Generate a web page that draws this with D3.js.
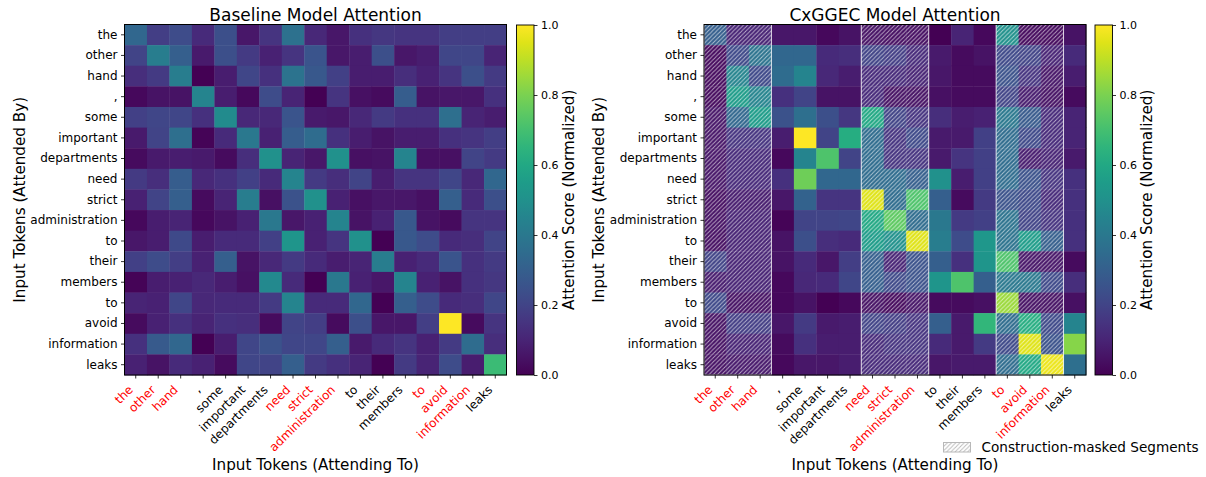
<!DOCTYPE html>
<html><head><meta charset="utf-8">
<script src="https://cdn.jsdelivr.net/npm/d3@7"></script>
<style>body{margin:0;background:#fff;} text{font-family:"DejaVu Sans",sans-serif;}</style>
</head><body>
<svg id="c" width="1206" height="477"></svg>
<script>
const tokens = ["the","other","hand",",","some","important","departments","need","strict","administration","to","their","members","to","avoid","information","leaks"];
const highlighted = [0,1,2,7,8,9,13,14,15];
const maskedSegments = [[0,2],[7,9],[13,15]];
const cbTicks = [0, 0.2, 0.4, 0.6, 0.8, 1.0];
const titles = ["Baseline Model Attention", "CxGGEC Model Attention"];
const legendLabel = "Construction-masked Segments";

const baseline = [
 [0.33,0.18,0.23,0.12,0.24,0.06,0.15,0.37,0.11,0.06,0.14,0.16,0.15,0.15,0.18,0.18,0.18],
 [0.20,0.42,0.30,0.07,0.24,0.17,0.09,0.15,0.26,0.06,0.08,0.24,0.06,0.08,0.21,0.21,0.10],
 [0.13,0.17,0.42,0.00,0.08,0.21,0.14,0.38,0.27,0.19,0.08,0.08,0.13,0.09,0.15,0.24,0.17],
 [0.02,0.05,0.05,0.45,0.08,0.02,0.23,0.10,0.00,0.15,0.04,0.03,0.29,0.05,0.06,0.06,0.14],
 [0.19,0.21,0.21,0.14,0.48,0.11,0.11,0.26,0.07,0.06,0.11,0.17,0.14,0.14,0.36,0.10,0.08],
 [0.07,0.20,0.36,0.01,0.12,0.40,0.09,0.29,0.35,0.14,0.08,0.05,0.08,0.08,0.14,0.15,0.18],
 [0.03,0.07,0.08,0.07,0.03,0.13,0.50,0.10,0.06,0.50,0.04,0.05,0.45,0.04,0.04,0.20,0.17],
 [0.17,0.13,0.29,0.11,0.14,0.19,0.12,0.45,0.17,0.13,0.20,0.08,0.15,0.15,0.21,0.11,0.33],
 [0.09,0.20,0.30,0.03,0.10,0.42,0.04,0.25,0.50,0.09,0.04,0.06,0.06,0.04,0.30,0.12,0.24],
 [0.02,0.08,0.10,0.02,0.05,0.09,0.40,0.06,0.09,0.45,0.05,0.09,0.27,0.05,0.03,0.15,0.15],
 [0.06,0.08,0.22,0.08,0.12,0.12,0.19,0.52,0.09,0.15,0.50,0.00,0.27,0.23,0.12,0.13,0.20],
 [0.19,0.23,0.18,0.09,0.30,0.05,0.11,0.17,0.12,0.08,0.10,0.42,0.09,0.12,0.26,0.14,0.17],
 [0.01,0.08,0.09,0.11,0.08,0.04,0.47,0.12,0.00,0.40,0.09,0.06,0.45,0.09,0.05,0.14,0.16],
 [0.10,0.09,0.21,0.11,0.12,0.12,0.17,0.45,0.12,0.12,0.33,0.00,0.30,0.23,0.12,0.13,0.21],
 [0.03,0.09,0.14,0.10,0.14,0.13,0.03,0.20,0.18,0.03,0.24,0.06,0.06,0.18,1.00,0.03,0.15],
 [0.14,0.28,0.33,0.00,0.08,0.21,0.25,0.21,0.21,0.30,0.07,0.12,0.15,0.09,0.17,0.35,0.13],
 [0.09,0.05,0.12,0.09,0.03,0.21,0.20,0.30,0.17,0.14,0.10,0.00,0.17,0.10,0.23,0.08,0.68]
];

const cxggec = [
 [0.30,0.10,0.10,0.06,0.06,0.02,0.05,0.05,0.04,0.04,0.00,0.10,0.02,0.50,0.03,0.03,0.05],
 [0.03,0.22,0.38,0.33,0.33,0.12,0.13,0.20,0.18,0.12,0.07,0.03,0.05,0.22,0.20,0.10,0.12],
 [0.03,0.45,0.22,0.35,0.45,0.11,0.08,0.12,0.12,0.10,0.06,0.03,0.03,0.25,0.15,0.06,0.08],
 [0.03,0.55,0.45,0.14,0.20,0.05,0.05,0.12,0.05,0.05,0.04,0.03,0.03,0.20,0.08,0.05,0.03],
 [0.06,0.33,0.55,0.25,0.36,0.24,0.16,0.60,0.20,0.15,0.13,0.08,0.09,0.40,0.28,0.12,0.10],
 [0.06,0.15,0.15,0.08,1.00,0.20,0.62,0.35,0.15,0.22,0.07,0.07,0.19,0.35,0.22,0.12,0.10],
 [0.06,0.12,0.12,0.02,0.45,0.72,0.20,0.35,0.15,0.15,0.07,0.15,0.19,0.35,0.08,0.10,0.07],
 [0.06,0.12,0.12,0.14,0.78,0.33,0.33,0.35,0.35,0.30,0.50,0.08,0.19,0.35,0.25,0.15,0.14],
 [0.04,0.08,0.08,0.06,0.31,0.15,0.15,0.95,0.35,0.72,0.30,0.03,0.17,0.25,0.22,0.12,0.14],
 [0.05,0.10,0.10,0.01,0.20,0.20,0.21,0.60,0.75,0.35,0.40,0.17,0.19,0.38,0.20,0.15,0.14],
 [0.04,0.10,0.10,0.05,0.24,0.13,0.12,0.55,0.50,0.95,0.42,0.23,0.53,0.38,0.55,0.30,0.14],
 [0.20,0.10,0.10,0.05,0.12,0.06,0.18,0.30,0.10,0.25,0.30,0.14,0.52,0.72,0.06,0.06,0.03],
 [0.08,0.10,0.10,0.02,0.11,0.12,0.21,0.30,0.22,0.25,0.52,0.72,0.30,0.40,0.40,0.22,0.13],
 [0.22,0.05,0.05,0.02,0.05,0.00,0.02,0.05,0.03,0.06,0.03,0.03,0.04,0.85,0.05,0.05,0.04],
 [0.05,0.18,0.18,0.06,0.17,0.07,0.08,0.20,0.18,0.15,0.30,0.07,0.66,0.35,0.62,0.22,0.45],
 [0.05,0.10,0.10,0.03,0.14,0.08,0.08,0.12,0.15,0.15,0.12,0.07,0.17,0.22,0.95,0.25,0.82],
 [0.05,0.07,0.07,0.02,0.06,0.06,0.08,0.12,0.12,0.12,0.06,0.07,0.07,0.35,0.60,0.97,0.36]
];

const svg = d3.select("#c");
const defs = svg.append("defs");

// hatch pattern
const hp = defs.append("pattern").attr("id","hatch").attr("patternUnits","userSpaceOnUse")
  .attr("width",4.2).attr("height",4.2);
hp.append("path").attr("d","M-1,1 l2,-2 M0,4.2 l4.2,-4.2 M3.2,5.2 l2,-2")
  .attr("stroke","rgba(255,255,255,0.62)").attr("stroke-width",0.95);
const hpl = defs.append("pattern").attr("id","hatchLegend").attr("patternUnits","userSpaceOnUse")
  .attr("width",4.2).attr("height",4.2);
hpl.append("path").attr("d","M-1,1 l2,-2 M0,4.2 l4.2,-4.2 M3.2,5.2 l2,-2")
  .attr("stroke","#b8b8b8").attr("stroke-width",0.9);

// colorbar gradient
const grad = defs.append("linearGradient").attr("id","vir").attr("x1",0).attr("y1",1).attr("x2",0).attr("y2",0);
d3.range(0,1.0001,0.05).forEach(t=>grad.append("stop").attr("offset",t).attr("stop-color",d3.interpolateViridis(t)));

const color = d3.scaleSequential(d3.interpolateViridis).domain([0,1]);
const Y0 = 24.5, Y1 = 375;
const FS_TICK = 12, FS_LABEL = 15.2, FS_TITLE = 17, FS_CB = 11;

function panel(data, x0, x1, cbx, title, masked) {
  const g = svg.append("g");
  const x = d3.scaleBand().domain(d3.range(tokens.length)).range([x0, x1]).padding(0);
  const y = d3.scaleBand().domain(d3.range(tokens.length)).range([Y0, Y1]).padding(0);
  const cells = [];
  data.forEach((row,i)=>row.forEach((v,j)=>cells.push({i,j,v})));
  g.selectAll("rect.cell").data(cells).enter().append("rect")
    .attr("x",d=>x(d.j)).attr("y",d=>y(d.i))
    .attr("width",x.bandwidth()+0.4).attr("height",y.bandwidth()+0.4)
    .attr("fill",d=>color(d.v));
  if (masked) {
    maskedSegments.forEach(([a,b])=>{
      g.append("rect").attr("x",x(a)).attr("y",Y0)
        .attr("width",x(b)+x.bandwidth()-x(a)).attr("height",Y1-Y0)
        .attr("fill","url(#hatch)").attr("stroke","rgba(255,255,255,0.8)").attr("stroke-width",1);
    });
  }
  g.append("rect").attr("x",x0).attr("y",Y0).attr("width",x1-x0).attr("height",Y1-Y0)
    .attr("fill","none").attr("stroke","#000").attr("stroke-width",1);
  // y axis
  const ya = g.append("g").attr("transform",`translate(${x0},0)`)
    .call(d3.axisLeft(y).tickSize(3.5).tickPadding(3.5).tickFormat(i=>tokens[i]));
  ya.select(".domain").remove();
  ya.selectAll("text").attr("font-size",FS_TICK).attr("font-family","DejaVu Sans").attr("fill","#000");
  ya.selectAll("line").attr("stroke","#000").attr("stroke-width",0.8);
  // x axis
  const xa = g.append("g").attr("transform",`translate(0,${Y1})`)
    .call(d3.axisBottom(x).tickSize(3.5).tickFormat(i=>tokens[i]));
  xa.select(".domain").remove();
  xa.selectAll("line").attr("stroke","#000").attr("stroke-width",0.8);
  xa.selectAll("text")
    .attr("font-size",FS_TICK).attr("font-family","DejaVu Sans")
    .attr("fill",i=>highlighted.includes(i)?"#ff0000":"#000")
    .attr("text-anchor","end").attr("dy",null).attr("y",0)
    .attr("transform","translate(-2,15.5) rotate(-45)");
  // title & labels
  const cx = (x0+x1)/2;
  g.append("text").attr("x",cx).attr("y",20.5).attr("text-anchor","middle")
    .attr("font-size",FS_TITLE).text(title);
  g.append("text").attr("x",cx).attr("y",470).attr("text-anchor","middle")
    .attr("font-size",FS_LABEL).text("Input Tokens (Attending To)");
  g.append("text").attr("transform",`translate(${x0-100},${(Y0+Y1)/2}) rotate(-90)`)
    .attr("text-anchor","middle").attr("font-size",FS_LABEL).text("Input Tokens (Attended By)");
  // colorbar
  const cbw = 17.5;
  const cs = d3.scaleLinear().domain([0,1]).range([Y1, Y0+0.5]);
  g.append("rect").attr("x",cbx).attr("y",Y0+0.5).attr("width",cbw).attr("height",Y1-Y0-0.5)
    .attr("fill","url(#vir)").attr("stroke","#000").attr("stroke-width",0.9);
  const ca = g.append("g").attr("transform",`translate(${cbx+cbw},0)`)
    .call(d3.axisRight(cs).tickValues(cbTicks).tickSize(3.5).tickPadding(3.5).tickFormat(d3.format(".1f")));
  ca.select(".domain").remove();
  ca.selectAll("text").attr("font-size",FS_CB).attr("font-family","DejaVu Sans").attr("fill","#000");
  ca.selectAll("line").attr("stroke","#000").attr("stroke-width",0.8);
  g.append("text").attr("transform",`translate(${cbx+57},${(Y0+Y1)/2}) rotate(-90)`)
    .attr("text-anchor","middle").attr("font-size",FS_LABEL).text("Attention Score (Normalized)");
}

panel(baseline, 124.5, 506.5, 516.5, titles[0], false);
panel(cxggec, 704, 1086, 1095, titles[1], true);

// legend
const lg = svg.append("g");
lg.append("rect").attr("x",943.5).attr("y",442.5).attr("width",27).attr("height",9.5)
  .attr("fill","url(#hatchLegend)").attr("stroke","#b8b8b8").attr("stroke-width",1);
lg.append("text").attr("x",981.5).attr("y",452).attr("font-size",13.6).text(legendLabel);
</script>
</body></html>
